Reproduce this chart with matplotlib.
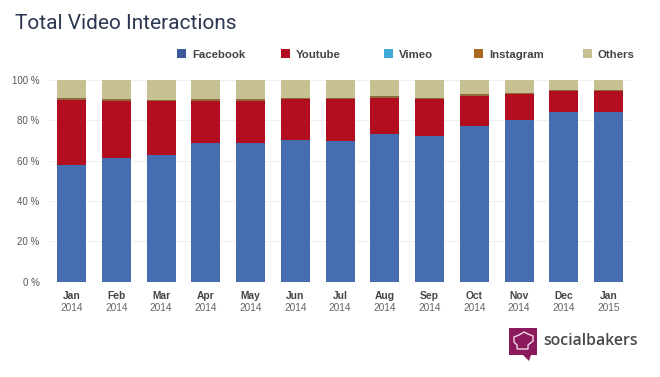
import matplotlib
matplotlib.use('Agg')
import matplotlib.pyplot as plt
from matplotlib.patches import Polygon, Rectangle

W, H = 660, 377

months = ['Jan', 'Feb', 'Mar', 'Apr', 'May', 'Jun', 'Jul', 'Aug', 'Sep', 'Oct', 'Nov', 'Dec', 'Jan']
years = ['2014'] * 12 + ['2015']

facebook = [58, 61.5, 63, 69, 69, 70.5, 70, 73, 72, 77, 80, 84, 84]
youtube = [32, 28.3, 26.5, 20.7, 20.7, 20, 20.5, 18.3, 18.5, 15, 13, 10.5, 10.5]
vimeo = [0.02] * 13
instagram = [1, 1, 0.8, 1, 0.8, 0.7, 0.5, 0.7, 0.5, 1, 0.7, 0.7, 0.7]
others = [9, 9.2, 9.7, 9.3, 9.5, 8.8, 9, 8, 9, 7, 6.3, 4.8, 4.8]

y_ticks = [0, 20, 40, 60, 80, 100]

series = [facebook, youtube, vimeo, instagram, others]
bar_colors = ['#466db0', '#b30d20', '#3fa9d8', '#8f6a3a', '#c6c092']

legend_names = ['Facebook', 'Youtube', 'Vimeo', 'Instagram', 'Others']
legend_colors = ['#3b5a9b', '#b30d20', '#3fa9d8', '#a8681e', '#c6c092']
legend_x = [177, 281, 384, 474, 583]

plt.rcParams['font.family'] = ['Liberation Sans', 'DejaVu Sans']

fig = plt.figure(figsize=(W / 100, H / 100), dpi=100, facecolor='white')

# axes placed in pixels, x band from first to last bar
left, right, top, bottom = 49.1, 631, 80, 281.7
ax = fig.add_axes([left / W, 1 - bottom / H, (right - left) / W, (bottom - top) / H])

x = range(len(months))
base = [0] * len(months)
for vals, col in zip(series, bar_colors):
    ax.bar(x, vals, width=0.648, bottom=base, color=col, linewidth=0, zorder=3)
    base = [b + v for b, v in zip(base, vals)]

ax.set_xlim(-0.5, len(months) - 0.5)
ax.set_ylim(0, 100)
for s in ax.spines.values():
    s.set_visible(False)

ax.set_yticks(y_ticks)
ax.set_yticklabels([f'{t} %' for t in y_ticks], fontsize=7, color='#555555')
ax.tick_params(axis='y', length=0, pad=7)
ax.tick_params(axis='x', length=0, pad=6.5)
ax.set_xticks(list(x))
ax.set_xticklabels(months, fontsize=7.4, color='#444444', fontweight='bold')

# gridlines run a bit past the band
for t in y_ticks:
    ax.plot([45, 637], [H - (bottom - t * (bottom - top) / 100)] * 2, color='#f0f0f0', lw=0.8,
            transform=None, zorder=1)

for i, yr in enumerate(years):
    ax.annotate(yr, (i, 0), xycoords='data', xytext=(0, -29), textcoords='offset pixels',
                ha='center', va='baseline', fontsize=7.3, color='#666666')

fig.text(15 / W, 1 - 29 / H, 'Total Video Interactions', fontsize=15, color='#2b3650',
         family=['Roboto', 'DejaVu Sans'], ha='left', va='baseline')

# legend
for name, col, lx in zip(legend_names, legend_colors, legend_x):
    fig.patches.append(Rectangle((lx / W, 1 - 58 / H), 9 / W, 9 / H, transform=fig.transFigure,
                                 facecolor=col, edgecolor='none'))
    fig.text((lx + 15) / W, 1 - 57.5 / H, name, fontsize=8.2, fontweight='bold', color='#444444',
             ha='left', va='baseline')

# logo
px = lambda a, b: (a / W, 1 - b / H)
purple = '#8a1a5c'
fig.patches.append(Polygon([px(509, 328), px(537, 328), px(537, 355), px(531, 355), px(529, 361),
                            px(523, 355), px(509, 355)], closed=True, transform=fig.transFigure,
                           facecolor=purple, edgecolor='none'))
hat = Polygon([px(517, 349), px(528, 349), px(528, 345), px(533, 341), px(533, 336), px(528, 334),
               px(524, 332), px(519, 335), px(514, 337), px(514, 342), px(517, 345)], closed=True,
              transform=fig.transFigure, facecolor='none', edgecolor='#f5d5e5', linewidth=1)
fig.patches.append(hat)
fig.text(543 / W, 1 - 345 / H, 'socialbakers', fontsize=11.4, color='#4a4a4a', fontweight='semibold',
         family=['Open Sans', 'DejaVu Sans'], ha='left', va='baseline')

plt.savefig('out.png', dpi=100)
